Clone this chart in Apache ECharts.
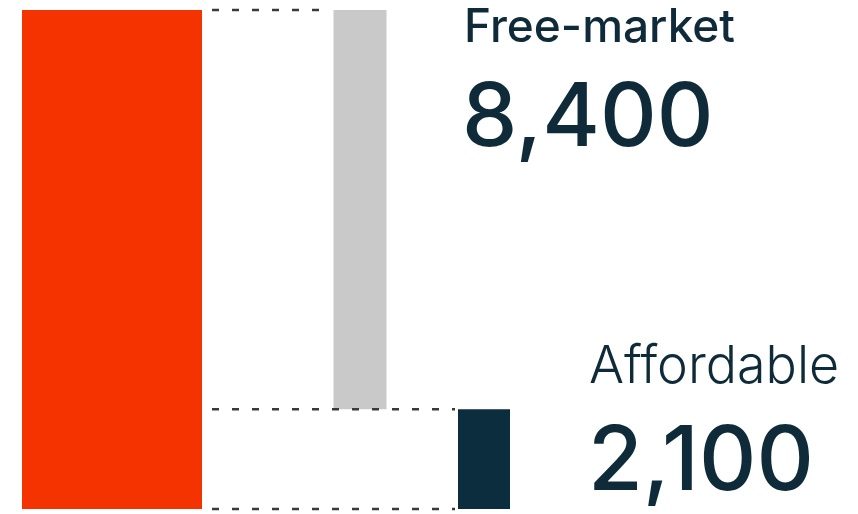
<!DOCTYPE html>
<html>
<head>
<meta charset="utf-8">
<script src="https://cdn.jsdelivr.net/npm/echarts@6/dist/echarts.min.js"></script>
<style>
  html, body { margin: 0; padding: 0; background: #fff; }
  #chart { width: 858px; height: 514px; }
</style>
</head>
<body>
<div id="chart"></div>
<script>
// waterfall: total split into free-market + affordable
const categories = ["Total", "", "Free-market", "Affordable"];
const totalValue = 10500;
const parts = [8400, 2100];          // Free-market, Affordable
const partLabels = ["Free-market", "Affordable"];
const valueLabels = ["8,400", "2,100"];

const barColors = ["#f53300", null, "#c9c9c9", "#0c2d3e"];
const barWidths = [180, 0, 53, 52];
const TEXT = "#0f2b3a";

// bars as [categoryIndex, start, end]
const bars = [
  [0, 0, totalValue],
  [2, parts[1], parts[1] + parts[0]],
  [3, 0, parts[1]]
];
// connectors as [level, fromCategory, toCategory]
const connectors = [
  [totalValue, 0, 2],
  [parts[1], 0, 3],
  [0, 0, 3]
];

const chart = echarts.init(document.getElementById("chart"));

chart.setOption({
  animation: false,
  grid: { left: 50, right: 312, top: 10, bottom: 5 },
  xAxis: { type: "category", data: categories, show: false },
  yAxis: { type: "value", min: 0, max: totalValue, show: false },
  series: [
    {
      type: "custom",
      data: bars,
      encode: { x: 0, y: [1, 2] },
      renderItem(params, api) {
        const i = api.value(0);
        const top = api.coord([i, api.value(2)]);
        const bottom = api.coord([i, api.value(1)]);
        const w = barWidths[i];
        return {
          type: "rect",
          shape: { x: top[0] - w / 2, y: top[1], width: w, height: bottom[1] - top[1] },
          style: { fill: barColors[i] }
        };
      }
    },
    {
      type: "custom",
      data: connectors,
      encode: { x: 1, y: 0 },
      z: 3,
      renderItem(params, api) {
        const level = api.value(0);
        const from = api.value(1), to = api.value(2);
        const a = api.coord([from, level]);
        const b = api.coord([to, level]);
        return {
          type: "line",
          shape: { x1: a[0] + barWidths[from] / 2 + 10, y1: a[1], x2: b[0] - barWidths[to] / 2 - 3, y2: b[1] },
          style: { stroke: "#3a3a3a", lineWidth: 2.5, lineDash: [7, 13] }
        };
      }
    }
  ],
  graphic: [
    { type: "text", left: 464, top: 5, style: { text: partLabels[0], fill: TEXT, font: "500 46px Inter" } },
    { type: "text", left: 462, top: 76, style: { text: valueLabels[0], fill: TEXT, font: "500 88px Inter" } },
    { type: "text", left: 589, top: 341, style: { text: partLabels[1], fill: TEXT, font: "300 52px Inter" } },
    { type: "text", left: 588, top: 419, style: { text: valueLabels[1], fill: TEXT, font: "500 89px Inter" } }
  ]
});
</script>
</body>
</html>
